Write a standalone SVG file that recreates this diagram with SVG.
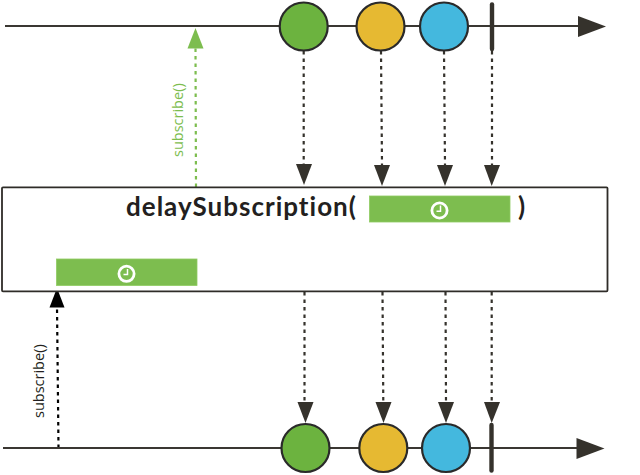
<svg xmlns="http://www.w3.org/2000/svg" width="640" height="475" viewBox="0 0 640 475">
<style>
.line{stroke:#3a3732;stroke-width:2.2;fill:none}
.head{fill:#35322c}
.dash{stroke:#35322c;stroke-width:2.2;stroke-dasharray:3.5 4;fill:none}
.gdash{stroke:#7dbd4f;stroke-width:2.2;stroke-dasharray:3.5 4;fill:none}
.kdash{stroke:#000;stroke-width:2.2;stroke-dasharray:3.5 4;fill:none}
.ev{stroke:#2a2a2a;stroke-width:2.2}
.bar{stroke:#35322c;stroke-width:4.4;stroke-linecap:round}
.op{fill:#7dbd4f;stroke:#8fcb62;stroke-width:.8}
.clock{fill:none;stroke:#fff;stroke-width:2.8}
.hand{fill:none;stroke:#fff;stroke-width:1.5}
.sub{font-family:"Open Sans","Liberation Sans",sans-serif;font-size:14.5px}
.title{font-family:Lato,"Liberation Sans",sans-serif;font-weight:700;font-size:26px;letter-spacing:1px;fill:#231f20}
</style>
<g id="connectors">
<path class="dash" d="M303.7 51V165"/><path class="head" d="M296 164H312L304 185Z"/>
<path class="dash" d="M381 51L382 165"/><path class="head" d="M374 165H390L382 186Z"/>
<path class="dash" d="M444 51L445 165"/><path class="head" d="M437 165H453L445 186Z"/>
<path class="dash" d="M492 51V165"/><path class="head" d="M484 165H500L491.7 186Z"/>
<path class="dash" d="M304.500 292V403"/><path class="head" d="M297.500 402H313.500L305.500 423Z"/>
<path class="dash" d="M382.500 292L383.300 403"/><path class="head" d="M375.500 402H391.500L383.500 423Z"/>
<path class="dash" d="M445.500 292L446 403"/><path class="head" d="M438 402H454L446 423Z"/>
<path class="dash" d="M491.700 292V403"/><path class="head" d="M484 402H500L491.700 423Z"/>
<path class="kdash" d="M58.500 448L57 306"/><path d="M49.500 307.500H64.500L57 288Z" fill="#000"/>
<path class="gdash" d="M196 187L195.500 48"/><path d="M187.500 48.500H203.500L195.500 28Z" fill="#7dbd4f"/>
</g>
<g id="timeline-top">
<path class="line" d="M5 26H580"/><path class="head" d="M578 16L606 26.500L578 37Z"/>
</g>
<g id="timeline-bottom">
<path class="line" d="M3 448H578"/><path class="head" d="M576.500 438L604.500 448.500L576.500 459Z"/>
</g>
<g id="top-green"><circle class="ev" cx="303.700" cy="26.500" r="24" fill="#6cb33f"/></g>
<g id="top-yellow"><circle class="ev" cx="380.500" cy="26.500" r="24" fill="#e6b932"/></g>
<g id="top-blue"><circle class="ev" cx="444" cy="26.500" r="24" fill="#44b8de"/></g>
<g id="top-end"><path class="bar" d="M492 4.500V49"/></g>
<g id="bottom-green"><circle class="ev" cx="305.500" cy="448" r="24" fill="#6cb33f"/></g>
<g id="bottom-yellow"><circle class="ev" cx="383.300" cy="448" r="24" fill="#e6b932"/></g>
<g id="bottom-blue"><circle class="ev" cx="446" cy="448" r="24" fill="#44b8de"/></g>
<g id="bottom-end"><path class="bar" d="M491.500 425V470.500"/></g>
<g id="operator">
<rect x="2" y="187.300" width="605.500" height="104" rx="1" fill="#fff" stroke="#2f2c28" stroke-width="1.800"/>
<text class="title" x="126" y="216">delaySubscription(</text>
<text class="title" x="518" y="216">)</text>
<rect class="op" x="369.500" y="196" width="140.500" height="26"/>
<circle class="clock" cx="439.500" cy="210.500" r="7.600"/><path class="hand" d="M440.500 205.500V211.200H436.500"/>
<rect class="op" x="56.500" y="259" width="140.500" height="26.500"/>
<circle class="clock" cx="126.500" cy="273.800" r="7.600"/><path class="hand" d="M127.500 269V274.500H123.500"/>
</g>
<text class="sub" transform="translate(44 418) rotate(-90)" fill="#231f20">subscribe()</text>
<text class="sub" transform="translate(183 157) rotate(-90)" fill="#7dbd4f">subscribe()</text>
</svg>
